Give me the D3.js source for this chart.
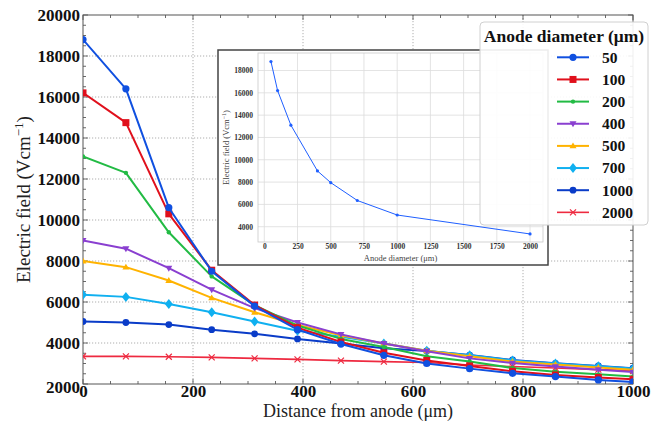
<!DOCTYPE html>
<html>
<head>
<meta charset="utf-8">
<script src="https://cdn.jsdelivr.net/npm/d3@7"></script>
<style>
  html, body { margin: 0; padding: 0; background: #fff; }
  svg { display: block; }
  text { font-family: "Liberation Serif", "Times New Roman", serif; }
</style>
</head>
<body>
<svg id="chart" width="661" height="425"></svg>
<script>
// ---------- data ----------
const distances = [0, 78, 156, 234, 312, 390, 469, 547, 625, 703, 781, 859, 937, 1000];
const seriesNames = ["50", "100", "200", "400", "500", "700", "1000", "2000"];
const field50   = [18800, 16400, 10600, 7500, 5800, 4650, 3950, 3400, 3000, 2750, 2520, 2360, 2200, 2100];
const field100  = [16200, 14750, 10300, 7550, 5850, 4750, 4050, 3520, 3150, 2880, 2620, 2440, 2320, 2230];
const field200  = [13100, 12300, 9400, 7250, 5850, 4850, 4200, 3800, 3350, 3100, 2780, 2600, 2470, 2360];
const field400  = [9000, 8600, 7650, 6600, 5700, 5000, 4420, 3980, 3600, 3250, 3020, 2850, 2700, 2580];
const field500  = [8000, 7700, 7050, 6200, 5500, 4880, 4380, 3980, 3620, 3350, 3100, 2950, 2800, 2690];
const field700  = [6350, 6250, 5900, 5500, 5050, 4600, 4300, 3980, 3620, 3400, 3150, 3000, 2870, 2750];
const field1000 = [5050, 5000, 4900, 4650, 4450, 4200, 3980, 3740, 3610, 3410, 3170, 3010, 2880, 2770];
const field2000 = [3350, 3350, 3330, 3300, 3250, 3200, 3140, 3090, 3050, 2930, 2850, 2780, 2700, 2650];
const xTicks = [0, 200, 400, 600, 800, 1000];
const yTicks = [2000, 4000, 6000, 8000, 10000, 12000, 14000, 16000, 18000, 20000];

const insetDiameters = [50, 100, 200, 400, 500, 700, 1000, 2000];
const insetField = [18800, 16200, 13100, 9000, 7950, 6350, 5050, 3350];
const insetXTicks = [0, 250, 500, 750, 1000, 1250, 1500, 1750, 2000];
const insetYTicks = [4000, 6000, 8000, 10000, 12000, 14000, 16000, 18000];

// ---------- styles ----------
const allValues = [field50, field100, field200, field400, field500, field700, field1000, field2000];
const styles = [
  { color: "#1050e0", marker: "circle", size: 3.6, width: 2 },
  { color: "#e0101c", marker: "square", size: 7, width: 2 },
  { color: "#22bb44", marker: "star", size: 2.2, width: 2 },
  { color: "#8a3fd0", marker: "tridown", size: 7, width: 2 },
  { color: "#ffb300", marker: "triup", size: 7, width: 2 },
  { color: "#10b0f0", marker: "diamond", size: 5, width: 2 },
  { color: "#0a3cc8", marker: "circle", size: 3.4, width: 2 },
  { color: "#ee2a40", marker: "cross", size: 3, width: 1.6 }
];

const svg = d3.select("#chart");

// ---------- main axes ----------
const m = { left: 83, right: 633, top: 15, bottom: 384 };
const x = d3.scaleLinear().domain([0, 1000]).range([m.left, m.right]);
const y = d3.scaleLinear().domain([2000, 20000]).range([m.bottom, m.top]);

// grid
const grid = svg.append("g");
xTicks.slice(1, -1).forEach(t => grid.append("line")
  .attr("x1", x(t)).attr("x2", x(t)).attr("y1", m.top).attr("y2", m.bottom)
  .attr("stroke", "#9a9a9a").attr("stroke-width", 0.8).attr("stroke-dasharray", "1.2,1.8"));
yTicks.slice(1, -1).forEach(t => grid.append("line")
  .attr("x1", m.left).attr("x2", m.right).attr("y1", y(t)).attr("y2", y(t))
  .attr("stroke", "#9a9a9a").attr("stroke-width", 0.8).attr("stroke-dasharray", "1.2,1.8"));

// minor/major inward ticks
const tickG = svg.append("g").attr("stroke", "#444").attr("stroke-width", 0.8);
d3.range(0, 1001, 50).forEach(t => {
  const len = t % 200 === 0 ? 5 : 3;
  tickG.append("line").attr("x1", x(t)).attr("x2", x(t)).attr("y1", m.bottom).attr("y2", m.bottom - len);
  tickG.append("line").attr("x1", x(t)).attr("x2", x(t)).attr("y1", m.top).attr("y2", m.top + len);
});
d3.range(2000, 20001, 500).forEach(t => {
  const len = t % 2000 === 0 ? 5 : 3;
  tickG.append("line").attr("y1", y(t)).attr("y2", y(t)).attr("x1", m.left).attr("x2", m.left + len);
  tickG.append("line").attr("y1", y(t)).attr("y2", y(t)).attr("x1", m.right).attr("x2", m.right - len);
});

// axes with d3 axis (labels only)
const xAxis = svg.append("g").attr("transform", `translate(0,${m.bottom})`)
  .call(d3.axisBottom(x).tickValues(xTicks).tickSize(0).tickPadding(1).tickFormat(d3.format("d")));
xAxis.select(".domain").remove();
xAxis.selectAll("text").attr("font-size", 17).attr("font-weight", "bold").attr("fill", "#111")
  .attr("font-family", "Liberation Serif, serif");
const yAxis = svg.append("g").attr("transform", `translate(${m.left},0)`)
  .call(d3.axisLeft(y).tickValues(yTicks).tickSize(0).tickPadding(3).tickFormat(d3.format("d")));
yAxis.select(".domain").remove();
yAxis.selectAll("text").attr("font-size", 17).attr("font-weight", "bold").attr("fill", "#111")
  .attr("font-family", "Liberation Serif, serif");
yAxis.selectAll(".tick").filter(d => d === 2000).select("text").attr("dy", "0.5em");

// frame
svg.append("rect").attr("x", m.left).attr("y", m.top).attr("width", m.right - m.left).attr("height", m.bottom - m.top)
  .attr("fill", "none").attr("stroke", "#555").attr("stroke-width", 1);

// axis labels
svg.append("text").attr("x", (m.left + m.right) / 2).attr("y", 417).attr("text-anchor", "middle")
  .attr("font-size", 18).attr("fill", "#222").text("Distance from anode (μm)");
svg.append("text").attr("transform", `translate(30,${(m.top + m.bottom) / 2}) rotate(-90)`).attr("text-anchor", "middle")
  .attr("font-size", 19).attr("fill", "#222")
  .call(t => { t.append("tspan").text("Electric field (Vcm"); t.append("tspan").attr("dy", -7).attr("font-size", 13).text("−1"); t.append("tspan").attr("dy", 7).text(")"); });

// marker drawing
function drawMarker(g, cx, cy, st) {
  const s = st.size, c = st.color;
  switch (st.marker) {
    case "circle": g.append("circle").attr("cx", cx).attr("cy", cy).attr("r", s).attr("fill", c); break;
    case "square": g.append("rect").attr("x", cx - s / 2).attr("y", cy - s / 2).attr("width", s).attr("height", s).attr("fill", c); break;
    case "star": g.append("circle").attr("cx", cx).attr("cy", cy).attr("r", s).attr("fill", c); break;
    case "tridown": g.append("path").attr("d", `M${cx - s / 2},${cy - s * 0.35}L${cx + s / 2},${cy - s * 0.35}L${cx},${cy + s * 0.5}Z`).attr("fill", c); break;
    case "triup": g.append("path").attr("d", `M${cx - s / 2},${cy + s * 0.35}L${cx + s / 2},${cy + s * 0.35}L${cx},${cy - s * 0.5}Z`).attr("fill", c); break;
    case "diamond": g.append("path").attr("d", `M${cx},${cy - s}L${cx + s * 0.8},${cy}L${cx},${cy + s}L${cx - s * 0.8},${cy}Z`).attr("fill", c); break;
    case "cross": g.append("path").attr("d", `M${cx - s},${cy - s}L${cx + s},${cy + s}M${cx - s},${cy + s}L${cx + s},${cy - s}`).attr("stroke", c).attr("stroke-width", 1.2); break;
  }
}

// series
const clip = svg.append("defs").append("clipPath").attr("id", "plotclip")
  .append("rect").attr("x", m.left).attr("y", m.top).attr("width", m.right - m.left).attr("height", m.bottom - m.top);
const seriesG = svg.append("g").attr("clip-path", "url(#plotclip)");
const line = d3.line().x(d => x(d[0])).y(d => y(d[1]));
// draw in reverse order so 50 is on top
for (let i = allValues.length - 1; i >= 0; i--) {
  const st = styles[i];
  const pts = distances.map((d, j) => [d, allValues[i][j]]);
  const g = seriesG.append("g");
  g.append("path").attr("d", line(pts)).attr("fill", "none").attr("stroke", st.color)
    .attr("stroke-width", st.width).attr("stroke-linejoin", "round");
  pts.forEach(p => drawMarker(g, x(p[0]), y(p[1]), st));
}

// ---------- inset ----------
const ib = { x: 218, y: 50, w: 330, h: 215 };
svg.append("rect").attr("x", ib.x).attr("y", ib.y).attr("width", ib.w).attr("height", ib.h)
  .attr("fill", "#fff").attr("stroke", "#444").attr("stroke-width", 1.5);
const im = { left: 258, right: 543, top: 53, bottom: 242 };
const ix = d3.scaleLinear().domain([-47.5, 2097.5]).range([im.left, im.right]);
const iy = d3.scaleLinear().domain([2630, 19570]).range([im.bottom, im.top]);
const ig = svg.append("g");
insetXTicks.forEach(t => ig.append("line").attr("x1", ix(t)).attr("x2", ix(t)).attr("y1", im.top).attr("y2", im.bottom)
  .attr("stroke", "#dcdcdc").attr("stroke-width", 0.8));
insetYTicks.forEach(t => ig.append("line").attr("x1", im.left).attr("x2", im.right).attr("y1", iy(t)).attr("y2", iy(t))
  .attr("stroke", "#dcdcdc").attr("stroke-width", 0.8));
ig.append("rect").attr("x", im.left).attr("y", im.top).attr("width", im.right - im.left).attr("height", im.bottom - im.top)
  .attr("fill", "none").attr("stroke", "#c8c8c8").attr("stroke-width", 0.8);
const ixAxis = ig.append("g").attr("transform", `translate(0,${im.bottom})`)
  .call(d3.axisBottom(ix).tickValues(insetXTicks).tickSize(0).tickPadding(2).tickFormat(d3.format("d")));
ixAxis.select(".domain").remove();
ixAxis.selectAll("text").attr("font-size", 7.5).attr("font-weight", "bold").attr("fill", "#333").attr("font-family", "Liberation Serif, serif");
const iyAxis = ig.append("g").attr("transform", `translate(${im.left},0)`)
  .call(d3.axisLeft(iy).tickValues(insetYTicks).tickSize(0).tickPadding(5).tickFormat(d3.format("d")));
iyAxis.select(".domain").remove();
iyAxis.selectAll("text").attr("font-size", 7.5).attr("font-weight", "bold").attr("fill", "#333").attr("font-family", "Liberation Serif, serif");
ig.append("text").attr("x", (im.left + im.right) / 2).attr("y", 261).attr("text-anchor", "middle")
  .attr("font-size", 8.5).attr("fill", "#444").text("Anode diameter (μm)");
ig.append("text").attr("transform", `translate(229,${(im.top + im.bottom) / 2}) rotate(-90)`).attr("text-anchor", "middle")
  .attr("font-size", 8.5).attr("fill", "#444")
  .call(t => { t.append("tspan").text("Electric field (Vcm"); t.append("tspan").attr("dy", -3).attr("font-size", 6).text("−1"); t.append("tspan").attr("dy", 3).text(")"); });
const iline = d3.line().x((d, j) => ix(insetDiameters[j])).y(d => iy(d));
ig.append("path").attr("d", iline(insetField)).attr("fill", "none").attr("stroke", "#1f5fff").attr("stroke-width", 1);
insetField.forEach((v, j) => ig.append("circle").attr("cx", ix(insetDiameters[j])).attr("cy", iy(v)).attr("r", 1.6).attr("fill", "#1f5fff"));

// ---------- legend ----------
const lg = svg.append("g");
lg.append("rect").attr("x", 480).attr("y", 22).attr("width", 168).attr("height", 203).attr("rx", 4)
  .attr("fill", "#fff").attr("fill-opacity", 0.9).attr("stroke", "#d0d0d0").attr("stroke-width", 1);
lg.append("text").attr("x", 564).attr("y", 42).attr("text-anchor", "middle").attr("font-size", 17.5)
  .attr("font-weight", "bold").attr("fill", "#111").text("Anode diameter (μm)");
seriesNames.forEach((name, i) => {
  const ly = 57.3 + i * 22.15;
  const st = styles[i];
  lg.append("line").attr("x1", 557).attr("x2", 589).attr("y1", ly).attr("y2", ly)
    .attr("stroke", st.color).attr("stroke-width", st.width);
  drawMarker(lg, 573, ly, st);
  lg.append("text").attr("x", 602).attr("y", ly).attr("dy", "0.35em").attr("font-size", 15.5)
    .attr("font-weight", "bold").attr("fill", "#111").text(name);
});
</script>
</body>
</html>
